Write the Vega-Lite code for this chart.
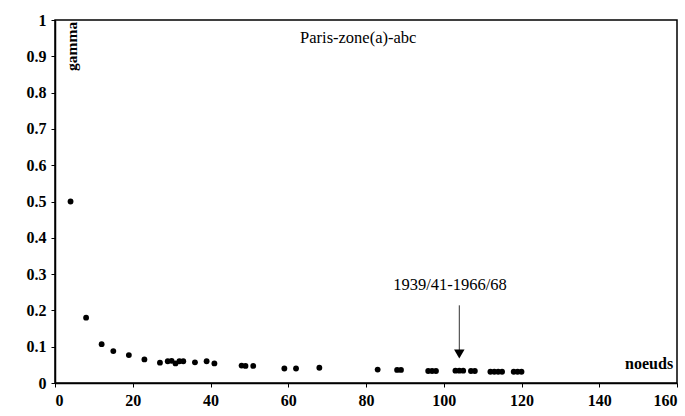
{
  "$schema": "https://vega.github.io/schema/vega-lite/v6.json",
  "width": 622,
  "height": 363,
  "autosize": {"type": "none"},
  "padding": {"left": 55, "top": 20, "right": 8, "bottom": 33},
  "background": "white",
  "config": {
    "view": {"stroke": "black", "strokeWidth": 1.5},
    "axis": {
      "grid": false,
      "domainColor": "black",
      "domainWidth": 1.5,
      "tickColor": "black",
      "tickSize": 4,
      "labelFont": "Liberation Serif",
      "labelFontWeight": "bold",
      "labelFontSize": 16,
      "labelColor": "black",
      "labelOverlap": false,
      "title": null
    }
  },
  "encoding": {
    "x": {
      "field": "x", "type": "quantitative",
      "scale": {"domain": [0, 160], "nice": false, "zero": true},
      "axis": {"values": [0, 20, 40, 60, 80, 100, 120, 140, 160], "labelPadding": 5, "labelOverlap": false}
    },
    "y": {
      "field": "y", "type": "quantitative",
      "scale": {"domain": [0, 1], "nice": false},
      "axis": {"values": [0, 0.1, 0.2, 0.3, 0.4, 0.5, 0.6, 0.7, 0.8, 0.9, 1], "labelExpr": "format(datum.value, '~g')", "labelPadding": 5, "labelOverlap": false}
    }
  },
  "layer": [
    {
      "data": {"values": [
        {"x": 4, "y": 0.5},
        {"x": 8, "y": 0.18},
        {"x": 12, "y": 0.107},
        {"x": 15, "y": 0.088},
        {"x": 19, "y": 0.077},
        {"x": 23, "y": 0.065},
        {"x": 27, "y": 0.056},
        {"x": 29, "y": 0.06},
        {"x": 30, "y": 0.061},
        {"x": 31, "y": 0.054},
        {"x": 32, "y": 0.06},
        {"x": 33, "y": 0.06},
        {"x": 36, "y": 0.057},
        {"x": 39, "y": 0.06},
        {"x": 41, "y": 0.054},
        {"x": 48, "y": 0.048},
        {"x": 49, "y": 0.047},
        {"x": 51, "y": 0.047},
        {"x": 59, "y": 0.04},
        {"x": 62, "y": 0.04},
        {"x": 68, "y": 0.042},
        {"x": 83, "y": 0.037},
        {"x": 88, "y": 0.036},
        {"x": 89, "y": 0.036},
        {"x": 96, "y": 0.033},
        {"x": 97, "y": 0.033},
        {"x": 98, "y": 0.033},
        {"x": 103, "y": 0.034},
        {"x": 104, "y": 0.034},
        {"x": 105, "y": 0.034},
        {"x": 107, "y": 0.033},
        {"x": 108, "y": 0.033},
        {"x": 112, "y": 0.031},
        {"x": 113, "y": 0.031},
        {"x": 114, "y": 0.031},
        {"x": 115, "y": 0.031},
        {"x": 118, "y": 0.031},
        {"x": 119, "y": 0.031},
        {"x": 120, "y": 0.031}
      ]},
      "mark": {"type": "circle", "color": "black", "opacity": 1, "size": 34}
    },
    {
      "data": {"values": [{"x": 104, "y": 0.214, "y2": 0.09}]},
      "mark": {"type": "rule", "color": "#333333", "strokeWidth": 1},
      "encoding": {"y2": {"field": "y2"}}
    },
    {
      "data": {"values": [{"x": 104, "y": 0.08}]},
      "mark": {"type": "point", "shape": "triangle-down", "filled": true, "color": "black", "opacity": 1, "size": 110}
    },
    {
      "data": {"values": [
        {"x": 78, "y": 0.95, "t": "Paris-zone(a)-abc", "w": "bold", "s": 16.5},
        {"x": 101.6, "y": 0.27, "t": "1939/41-1966/68", "w": "normal", "s": 16.5}
      ]},
      "mark": {"type": "text", "font": "Liberation Serif", "color": "black", "baseline": "middle"},
      "encoding": {
        "text": {"field": "t"},
        "fontWeight": {"field": "w", "type": "nominal", "scale": null},
        "size": {"field": "s", "type": "quantitative", "scale": null}
      }
    },
    {
      "data": {"values": [{"x": 159, "y": 0.052, "t": "noeuds"}]},
      "mark": {"type": "text", "font": "Liberation Serif", "fontSize": 16, "fontWeight": "bold", "color": "black", "align": "right", "baseline": "middle"},
      "encoding": {"text": {"field": "t"}}
    },
    {
      "data": {"values": [{"x": 4.4, "y": 0.995, "t": "gamma"}]},
      "mark": {"type": "text", "font": "Liberation Serif", "fontSize": 15.5, "fontWeight": "bold", "color": "black", "angle": 270, "align": "right", "baseline": "middle"},
      "encoding": {"text": {"field": "t"}}
    }
  ]
}
